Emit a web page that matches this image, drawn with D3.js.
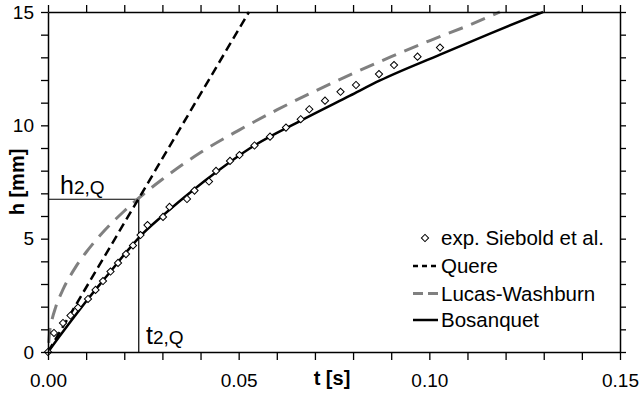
<!DOCTYPE html>
<html>
<head>
<meta charset="utf-8">
<script src="https://cdn.jsdelivr.net/npm/d3@7"></script>
<style>
  html, body { margin: 0; padding: 0; background: #fff; }
  svg { display: block; font-family: "Liberation Sans", Arial, sans-serif; }
</style>
</head>
<body>
<div id="chart"></div>
<script>
// measured points, Siebold et al.
const expT = [0, 0.00157, 0.00393, 0.0059, 0.00787, 0.01049, 0.01246, 0.01442, 0.01639, 0.01836,
  0.02045, 0.02229, 0.02426, 0.02609, 0.03016, 0.03186, 0.03645, 0.03842, 0.04222, 0.04406,
  0.04773, 0.05022, 0.05415, 0.05822, 0.06241, 0.06627, 0.06852, 0.07264, 0.07671, 0.08077,
  0.0868, 0.09074, 0.0969, 0.1028];
const expH = [0, 0.84, 1.28, 1.61, 1.96, 2.34, 2.74, 3.13, 3.55, 3.93,
  4.32, 4.70, 5.16, 5.60, 5.96, 6.40, 6.75, 7.12, 7.52, 7.99,
  8.43, 8.69, 9.11, 9.50, 9.90, 10.27, 10.71, 11.09, 11.48, 11.78,
  12.26, 12.66, 13.03, 13.43];

// model curves
const quereT = [0, 0.0527];
const quereH = [0, 15];

const lwT = [0, 0.0005, 0.001, 0.002, 0.004, 0.007, 0.01, 0.015, 0.02, 0.025, 0.03,
  0.04, 0.05, 0.06, 0.07, 0.08, 0.09, 0.10, 0.11, 0.1185];
const lwH = [0, 0.98, 1.39, 1.97, 2.78, 3.68, 4.40, 5.39, 6.22, 6.96, 7.62,
  8.80, 9.78, 10.68, 11.51, 12.29, 13.03, 13.73, 14.39, 15.0];

const bosT = [0, 0.00524, 0.01049, 0.01639, 0.02064, 0.02386, 0.03024, 0.0381, 0.04424,
  0.05297, 0.06608, 0.0792, 0.08706, 0.1028, 0.11591, 0.12981];
const bosH = [0, 1.19, 2.34, 3.55, 4.43, 5.05, 6.04, 7.15, 7.95,
  8.99, 10.19, 11.31, 11.98, 13.12, 14.05, 15.0];

// transition point
const tQ = 0.0238;
const hQ = 6.74;

const xLabels = [0, 0.05, 0.10, 0.15];
const xMinor = d3.range(0, 16).map(i => i / 100);
const yLabels = [0, 5, 10, 15];
const yMinor = d3.range(0, 16);

const legendItems = ["exp. Siebold et al.", "Quere", "Lucas-Washburn", "Bosanquet"];

const width = 641, height = 394;
const svg = d3.select("#chart").append("svg")
  .attr("width", width).attr("height", height);

const x = d3.scaleLinear().domain([0, 0.15]).range([48, 620]);
const y = d3.scaleLinear().domain([0, 15]).range([352, 12]);

const zip = (ts, hs) => ts.map((t, i) => [t, hs[i]]);
const line = d3.line().x(d => x(d[0])).y(d => y(d[1]));
const smooth = d3.line().x(d => x(d[0])).y(d => y(d[1])).curve(d3.curveMonotoneX);

// guide lines for t2,Q / h2,Q
svg.append("path")
  .attr("d", line([[0, hQ], [tQ, hQ], [tQ, 0]]))
  .attr("fill", "none").attr("stroke", "#000").attr("stroke-width", 1.2);

svg.append("path")
  .attr("d", smooth(zip(lwT, lwH)))
  .attr("fill", "none").attr("stroke", "#808080")
  .attr("stroke-width", 3).attr("stroke-dasharray", "15,9")
  .attr("stroke-dashoffset", 15);

svg.append("path")
  .attr("d", line(zip(quereT, quereH)))
  .attr("fill", "none").attr("stroke", "#000")
  .attr("stroke-width", 2.5).attr("stroke-dasharray", "9,5");

svg.append("path")
  .attr("d", smooth(zip(bosT, bosH)))
  .attr("fill", "none").attr("stroke", "#000").attr("stroke-width", 2.5);

const diamond = d3.symbol(d3.symbolSquare).size(26);
svg.append("g").selectAll("path")
  .data(zip(expT, expH))
  .join("path")
  .attr("d", diamond)
  .attr("transform", d => `translate(${x(d[0])},${y(d[1])}) rotate(45)`)
  .attr("fill", "#fff").attr("stroke", "#000").attr("stroke-width", 1);

// axes frame and ticks
function styleAxis(g) {
  g.select(".domain").attr("stroke", "#000").attr("stroke-width", 1.5);
  g.selectAll(".tick line").attr("stroke", "#000").attr("stroke-width", 1.3);
}

svg.append("g").attr("transform", `translate(0,${y(0)})`)
  .call(d3.axisBottom(x).tickValues(xMinor).tickSize(8).tickSizeOuter(0).tickFormat(""))
  .call(styleAxis);
svg.append("g").attr("transform", `translate(0,${y(15)})`)
  .call(d3.axisTop(x).tickValues(xMinor).tickSize(7).tickSizeOuter(0).tickFormat(""))
  .call(styleAxis);
svg.append("g").attr("transform", `translate(${x(0)},0)`)
  .call(d3.axisLeft(y).tickValues(yMinor).tickSize(7).tickSizeOuter(0).tickFormat(""))
  .call(styleAxis);
svg.append("g").attr("transform", `translate(${x(0.15)},0)`)
  .call(d3.axisRight(y).tickValues(yMinor).tickSize(6).tickSizeOuter(0).tickFormat(""))
  .call(styleAxis);

// tick labels
const xl = svg.append("g").attr("transform", `translate(0,${y(0)})`)
  .call(d3.axisBottom(x).tickValues(xLabels).tickSize(0).tickPadding(22).tickFormat(d3.format(".2f")));
xl.select(".domain").remove();
xl.selectAll("text").attr("font-size", 19).attr("fill", "#000").attr("font-family", null);

const yl = svg.append("g").attr("transform", `translate(${x(0)},0)`)
  .call(d3.axisLeft(y).tickValues(yLabels).tickSize(0).tickPadding(14));
yl.select(".domain").remove();
yl.selectAll("text").attr("font-size", 19).attr("fill", "#000").attr("font-family", null);

// axis titles
svg.append("text")
  .attr("x", 332).attr("y", 385)
  .attr("text-anchor", "middle").attr("font-size", 20).attr("font-weight", "bold")
  .text("t [s]");
svg.append("text")
  .attr("transform", "translate(24,182) rotate(-90)")
  .attr("text-anchor", "middle").attr("font-size", 20).attr("font-weight", "bold")
  .text("h [mm]");

// annotations
const hLab = svg.append("text").attr("x", 60).attr("y", 194).attr("font-size", 25);
hLab.append("tspan").text("h");
hLab.append("tspan").attr("font-size", 19).text("2,Q");

const tLab = svg.append("text").attr("x", 146).attr("y", 344).attr("font-size", 25);
tLab.append("tspan").text("t");
tLab.append("tspan").attr("font-size", 19).text("2,Q");

// legend
const legY = [245, 273, 300.5, 327];
const leg = svg.append("g");
leg.selectAll("text").data(legendItems).join("text")
  .attr("x", 441).attr("y", (d, i) => legY[i])
  .attr("font-size", 20.5).attr("fill", "#000")
  .text(d => d);

leg.append("path")
  .attr("d", diamond)
  .attr("transform", `translate(425,${legY[0] - 7}) rotate(45)`)
  .attr("fill", "#fff").attr("stroke", "#000").attr("stroke-width", 1);
leg.append("line")
  .attr("x1", 413).attr("x2", 438).attr("y1", legY[1] - 7).attr("y2", legY[1] - 7)
  .attr("stroke", "#000").attr("stroke-width", 2.5).attr("stroke-dasharray", "5,4");
leg.append("line")
  .attr("x1", 413).attr("x2", 438).attr("y1", legY[2] - 7).attr("y2", legY[2] - 7)
  .attr("stroke", "#808080").attr("stroke-width", 3).attr("stroke-dasharray", "10,5");
leg.append("line")
  .attr("x1", 413).attr("x2", 438).attr("y1", legY[3] - 7).attr("y2", legY[3] - 7)
  .attr("stroke", "#000").attr("stroke-width", 2.5);
</script>
</body>
</html>
